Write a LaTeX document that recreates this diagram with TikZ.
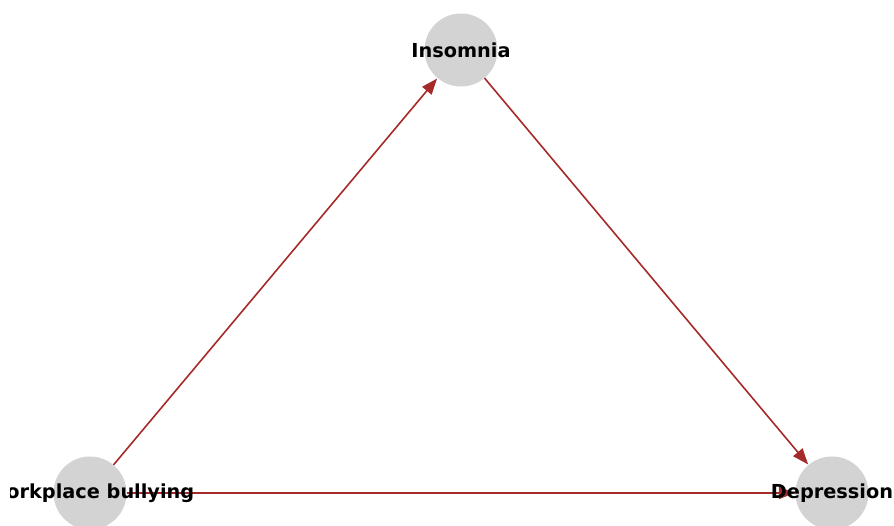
\documentclass[tikz,border=0pt]{standalone}
\usepackage{fontspec}
\setmainfont{DejaVu Sans}
\usetikzlibrary{arrows.meta}
\definecolor{edgecol}{HTML}{A52A2A}
\definecolor{nodecol}{HTML}{D3D3D3}
\tikzset{
  vertex/.style={circle, fill=nodecol, minimum size=73pt, inner sep=0pt},
  lbl/.style={font=\bfseries\fontsize{19.3}{21}\selectfont, text=black, inner sep=0pt},
  edge/.style={draw=edgecol, line width=1.6pt, -{Triangle[length=16pt,width=12pt]}, shorten >=0.5pt}
}
\begin{document}
\begin{tikzpicture}[x=1pt,y=1pt]
\useasboundingbox (0,0) rectangle (894,526);
\clip (10,0) rectangle (894,526);
\node[vertex] (ins) at (461,476) {};
\node[vertex] (bul) at (90,33) {};
\node[vertex] (dep) at (832,33) {};
\draw[edge] (bul) -- (ins);
\draw[edge] (ins) -- (dep);
\draw[edge] (bul) -- (dep);
\node[lbl] (tins) at (ins) {Insomnia};
\node[lbl] (tbul) at (bul) {Workplace bullying};
\node[lbl] (tdep) at (dep) {Depression};
\end{tikzpicture}
\end{document}
